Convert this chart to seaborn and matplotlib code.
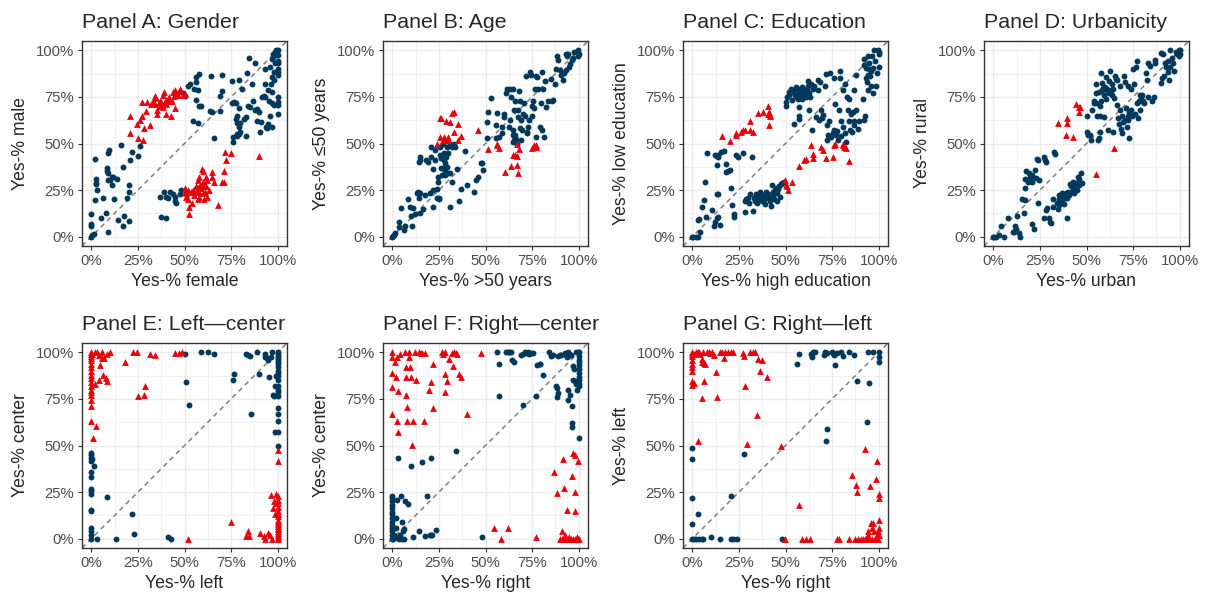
import numpy as np
import pandas as pd
import matplotlib
matplotlib.use("Agg")
import matplotlib.pyplot as plt
from matplotlib.ticker import PercentFormatter, MultipleLocator
import seaborn as sns

# values, in percent: (x, y)
a_blue = [(0,0),(0.5,1),(1.5,1.5),(0,7),(0,6),(0,12),(2,41.5),(2.5,31),(2.5,29),(2.5,28.5),(3,25),(2,19.5),(5,10),(6,21),
          (8,12.5),(9,2.5),(9.5,46.5),(9,45),(8.5,37),(8.5,35),(9,34),(9,30.5),(10,30.5),(11,32),(11.5,32),(11,28),(12,20),
          (14,31),(14.5,9),(16,49),(17,37.5),(17.5,11),(17,6),(19,21),(20,28),(20,24),(20,8.5),(20.5,41),(22,45.5),(25,43.5),
          (26,48.5),(39,24),(40,21.5),(41,20.5),(42,24),(44,23),(45,21.5),(45,19),(45.5,18),(47.5,23),(48,25),(37,21.5),
          (37.5,10.5),(40,10),(49,77),(50,75.5),(52,81),(53,82),(55,79.5),(56,83),(56,85.5),(58,87.5),(57,78.5),(56,73.5),
          (58,70),(59,70),(54.5,62),(57.5,61),(64,86),(63.5,67.5),(65,67),(66,53),(69,75.5),(70,78),(70,87),(69,67.5),
          (75.5,83.5),(75.5,72),(76.5,72.5),(77.5,72),(78,64.5),(77.5,63),(79,69),(79.5,59),(78,61),(80,61),(81,79.5),
          (82,63),(83,64),(78,55),(78,54),(79.5,55),(80,56),(83,54),(76,51),(76,53.5),(79,84),(83.5,88),(84.5,96),(84,70),
          (85,69.5),(86,82),(87,73),(88,68),(88,93),(89,68.5),(90,67),(89,62),(90.5,56),(91,61.5),(91.5,75),(92.5,75.5),
          (93,75),(93,90),(93.5,59),(94.5,58.5),(95,60.5),(95.5,73),(96,64.5),(97,59),(96.5,82),(97,85.5),(96,91),
          (97,95.5),(97.5,98),(98,97),(98.5,99),(99,100),(100,100),(100,97.5),(100,94.5),(100,93),(100,90),(100,88.5),
          (100,86.5),(100,75),(100,72.5),(100,70.5),(100,66),(97,71.5),(98,70.5),(97,77.5),(98,84),(98,88.5),(98.5,93),
          (95,78.5),(93,82)]
a_red = [(21,55.5),(21,64.5),(24.5,60.5),(25,53),(26,62.5),(27,64.5),(27.5,52),(28,58.5),(27,72.5),(29.5,67.5),(30,72.5),
         (31.5,60),(32,71),(34,75.5),(34.5,74.5),(35,68),(35,66),(36.5,71.5),(37,73),(37.5,72.5),(38,71),(38.5,76),
         (38.5,69.5),(39,77.5),(39.5,72.5),(40,73.5),(40,71),(40,66),(41,74),(41.5,75),(42,73),(42.5,65),(43.5,73),
         (44,77.5),(44.5,75.5),(45,69),(45,78.5),(45.5,77),(46.5,76),(47.5,79),(48,78),(49,76),(50,76.5),(33,73),(34,71),
         (37,70),(50,26),(50.5,24),(51,21.5),(51,23.5),(52,20),(52,25),(52.5,16),(52.5,12),(53.5,24),(54,18),(54.5,25),
         (55,22.5),(56,24),(57,26),(57,30.5),(58,32),(58.5,28),(59,26),(59.5,36.5),(60,35),(60,29.5),(60,27),(60,23.5),
         (60.5,20),(61.5,32),(61.5,27),(62,21.5),(62,30.5),(63,25),(65,34.5),(65,32),(66,29.5),(68,17),(70,29.5),
         (71,35.5),(71,29.5),(72,45.5),(72.5,41),(75,45),(90,43.5),(57,20),(58,21.5),(56,27),(58,24),(61,24)]

b_blue = [(0,0),(0.5,0.5),(1,1),(1.5,2),(3.5,5),(3.5,8),(4.5,15.5),(6,3.5),(7,5.5),(8.5,20),(9.5,16),(10,11),(10.5,5.5),
          (11,15.5),(12,12),(13.5,23.5),(14,24),(14.5,21),(15,12.5),(15,23.5),(15,41),(15,43),(14.5,40),(16.5,15),
          (17.5,22.5),(18,41),(19,40),(20,23.5),(20.5,42.5),(21,48),(22,25),(22,16),(22,36.5),(23,41),(23,46.5),(24,25.5),
          (24,21),(24.5,32),(24.5,29.5),(25,20),(25,21),(25.5,48),(25.5,44),(26,42),(26,37),(26.5,33),(26.5,43),(27,49.5),
          (27.5,45),(27.5,41),(28,37.5),(28,35),(28.5,39.5),(28.5,33),(29,43),(29.5,37.5),(29.5,48),(30,34),(30,45),
          (31,50),(31,34),(31,16),(32,29.5),(32,48),(33,49.5),(33.5,48),(34.5,36.5),(36,19),(37,25.5),(39,46),(40,28),
          (44,24),(45,30.5),(46,32),(47.5,39.5),(48,39.5),(48.5,36),(51,53),(51,61.5),(51.5,67),(53,74.5),(55.5,53),
          (55.5,60),(56,66.5),(57,53.5),(59,59),(59,55.5),(60,66),(60,64),(61,77),(61.5,79.5),(62.5,59),(63,62.5),
          (63,79.5),(63.5,75),(64.5,79.5),(65,54.5),(65,51),(65,57),(65.5,52),(65.5,68),(66,54.5),(66,73),(66.5,52.5),
          (67,50),(67.5,64),(67.5,68),(68,78),(68.5,73),(68.5,58.5),(69,62.5),(69,52),(69.5,57),(70,66),(70.5,71.5),
          (71,64.5),(71.5,86),(72,55.5),(72.5,56),(73,59),(73.5,62.5),(74,88.5),(74.5,87),(75,64.5),(75,70),(75.5,73),
          (76,69),(76.5,79.5),(77,86),(77,53.5),(77.5,85.5),(78,79.5),(79,59),(80,71.5),(80.5,57.5),(80.5,88.5),
          (81,79.5),(81.5,53.5),(82,83.5),(82.5,69.5),(83.5,73),(85,84.5),(85.5,73),(86,73.5),(87.5,82),(88,90),
          (88.5,97),(89,95),(90,89.5),(90.5,86.5),(91.5,84),(92,88),(93,89.5),(93,98),(93.5,97),(94,98),(95,91),
          (95.5,92.5),(96.5,95),(97,96),(97.5,99),(99.5,100),(100,98),(99.5,97)]
b_red = [(24,50),(25.5,63.5),(26,63.5),(25.5,53.5),(27,52),(27.5,53.5),(28.5,52),(29,62),(30,53.5),(30,52),(31,61.5),
         (32,66.5),(33,67),(33,56),(35,60.5),(35,52),(37,54),(46,57.5),(51.5,47),(56,50),(56,49),(57.5,47.5),(60.5,34.5),
         (63.5,38),(65,44),(66,44),(67,38.5),(67,43.5),(67.5,34),(68,47),(67,50),(75,47.5),(76,49),(77,49),(77,48)]

c_blue = [(0,0),(0.5,0),(2,0),(3,0),(4,2.5),(3,9),(3.5,9.5),(5,16),(6,19.5),(7,29.5),(7.5,10.5),(8,45),(10.5,14.5),(11.5,6),
          (12,8),(12,44),(13,10),(13,23),(13.5,38.5),(13.5,43.5),(14,42.5),(14,44),(14,23),(14,10.5),(15,6.5),(15.5,45.5),
          (17,46),(18,39),(18,34.5),(19,35),(20,36),(21,26),(21.5,17),(22.5,12),(22.5,10.5),(23.5,44),(24.5,43),(27,45),
          (28,19),(28,13),(29,20),(30,20.5),(30.5,18),(31,23),(32,43),(32.5,14),(33,20.5),(33.5,19),(34,23),(34,21.5),
          (34.5,18),(35,20),(35.5,22),(36,20),(36.5,24),(37,21.5),(37.5,19),(38,22.5),(38.5,20),(38.5,21.5),(39,17.5),
          (39.5,24),(39.5,20.5),(40.5,23),(41.5,19),(41.5,21.5),(42,16.5),(43,28),(43.5,24),(43.5,22),(44,20),(44.5,25),
          (45,26),(45.5,23.5),(45.5,19),(46,25.5),(46.5,27),(47,21.5),(47.5,28.5),(48,29),(49,29.5),(50,70),(50.5,72.5),
          (51,75),(52,77.5),(52,76),(53,79),(53.5,73.5),(54,77.5),(54.5,60.5),(55,76),(55.5,79),(55.5,80.5),(56,75),
          (56.5,74),(57,65),(57,69.5),(57.5,63),(57.5,77.5),(58,79),(58.5,75),(59,80.5),(59,74),(59.5,77),(60,78.5),
          (60.5,76),(61,75),(61.5,79),(62,83.5),(62,81),(62.5,68),(62.5,77),(63,75),(63.5,82),(64,57),(64.5,79),
          (65.5,81),(66.5,64),(67.5,84),(67.5,78.5),(68,62.5),(68.5,83),(69,68),(69.5,63.5),(70,65.5),(71,81),(71.5,87.5),
          (72,60),(72.5,52),(73,54.5),(73.5,62),(74,88),(74.5,53.5),(75.5,55.5),(76,57.5),(76,85),(76.5,71),(77,54.5),
          (77.5,56.5),(78,52),(78.5,68),(79,85),(79,89),(80,54),(80,62),(81,78.5),(81,59),(82,55.5),(82,82),(82.5,51),
          (83,75),(83.5,68),(84,74),(84,62),(84.5,57),(85,66),(85.5,56),(86,67),(86.5,62),(87,78.5),(87,60),(88,86.5),
          (88,68),(89,58),(89.5,62),(91.5,74),(92,95.5),(92,62.5),(92.5,65),(92,92),(93,90.5),(93,85),(93.5,83),
          (94,86.5),(94.5,78.5),(95,93),(95.5,86),(96,81),(96.5,97),(97,90.5),(97,77),(97.5,100),(98,94.5),(98.5,81),
          (99,88),(99.5,100),(100,99),(100,91),(100,98),(96,89),(95,90),(94,97)]
c_red = [(16,54),(20,51.5),(23.5,54.5),(23.5,55.5),(26,56),(27,57),(28,57),(31,62),(31,57),(32.5,56),(35.5,66.5),(38,67),
         (40.5,70),(40.5,66),(41,67),(41,60),(41.5,64.5),(41.5,65.5),(49.5,30.5),(50,28),(51,27),(51.5,25),(53.5,29.5),
         (57.5,38),(60,41),(61,41.5),(63.5,49),(64.5,44.5),(64.5,42),(69,48),(70,46.5),(71.5,42),(75.5,42.5),(76,49),
         (76.5,49.5),(81,49),(81.5,48),(82.5,47.5),(84,40.5),(81,50)]

d_blue = [(0,0),(0.5,0),(1.5,0),(3,1),(4,6),(5.5,0),(8,10),(10.5,2.5),(11,2.5),(11.5,6),(12.5,11),(12,4),(14,2),(14.5,0),
          (15.5,20),(17,19.5),(16.5,12.5),(17,26),(17,31),(17.5,35),(18.5,29.5),(19,34),(19.5,32),(20,33),(20.5,7),
          (20.5,32),(21,33),(21,29.5),(22,4),(22.5,36),(23,31.5),(23.5,41.5),(24,18),(24,41),(24.5,30.5),(27,10),(27,43),
          (27.5,41),(28,40),(28.5,14.5),(29,15.5),(30,10),(30.5,8),(31,7.5),(32,20),(32,16),(32.5,45.5),(33,44.5),(34,18),
          (34.5,15),(35,20),(35,17),(35.5,22.5),(36,19),(36.5,21),(37,23.5),(37.5,20),(38,17.5),(38.5,21.5),(39,23.5),
          (39.5,10),(39.5,20.5),(40,24),(40.5,22.5),(41,28.5),(41.5,27),(42,24),(42.5,26),(43,29.5),(43,27),(43.5,23.5),
          (44,25.5),(44.5,29),(45,25),(45.5,32),(46,31),(47,34),(47.5,29),(46,28),(50,65),(50.5,56),(51,54.5),(52,54.5),
          (52.5,52),(53,68),(54,73),(54,71.5),(55,82),(55,77),(55,72),(55.5,65),(56,52),(56.5,53),(57,56),(57.5,70),
          (58,88),(58,73),(58.5,78.5),(58.5,82.5),(59,80),(59.5,76),(59.5,64),(60,80.5),(60.5,85.5),(60.5,74),(61,79),
          (61.5,57.5),(62,83.5),(62,77),(62.5,89),(63,78.5),(63.5,76),(63.5,82),(64,79),(64,56),(65,74.5),(65.5,86),
          (66,84.5),(66.5,70.5),(66.5,84),(67,63.5),(67.5,60.5),(68,68),(68,81),(68.5,58),(69,65),(69,55.5),(69.5,61.5),
          (70,86),(70.5,83),(70.5,62.5),(71,69),(71.5,59),(72,62.5),(72,65),(72.5,81),(73,53),(73,67),(74,79),(74,68),
          (74.5,64.5),(75,90),(75.5,82),(76,66),(76.5,91),(77,72),(77,94.5),(77.5,63.5),(78,73),(78.5,76),(78.5,68),
          (79,75),(79.5,73),(80,76),(80.5,73),(81,71.5),(82,88),(82.5,84),(83,93),(83,75),(84,91.5),(85,73),(86,75),
          (87,95),(87,93),(90,98.5),(90.5,85),(90,82.5),(91,98),(91.5,86),(92,93),(92.5,91),(93.5,88.5),(93.5,94.5),
          (94,84),(95,100),(95,91),(96,96),(96.5,93),(97,89),(98,99),(98.5,98),(99.5,100),(100,100),(100,98),(99.5,97),
          (57,65),(56.5,77.5),(59.5,80),(61,78.5)]
d_red = [(34.5,61),(39.5,63.5),(39.5,61),(39,54.5),(42.5,53.5),(44.5,71),(46,69.5),(46.5,69.5),(46,67),(55,33.5),(65,47.5)]

e_blue = [(0,0),(0,2),(0,4),(0,6),(0,15),(0,15.5),(0,24),(0,25.5),(0,26.5),(0,33),(0,36),(0,41.5),(0,43.5),(0,45),(0,46),
          (0.5,42.5),(1.5,39),(3,0),(8.5,22.5),(13.5,0),(22,13),(23,2.5),(41,1),(42.5,0),(50,99),(51,84),(52.5,72),
          (59,100),(62.5,100),(66,99),(76,85),(76.5,88.5),(83,99),(84,98.5),(85,98),(85.5,67),(89,100),(90,88.5),(93,99),
          (93,97.5),(94,97),(95,96),(95.5,87),(96.5,97.5),(97,100),(97.5,77),(98,76.5),(98.5,82),(99,87.5),(100,100),
          (100,99),(100,98),(100,97),(100,96),(100,95),(100,94),(100,92),(100,90),(100,89),(100,87.5),(100,85),(100,82),
          (100,80),(100,78.5),(100,76.5),(100,70),(100,67),(100,63),(100,57.5),(98.5,57.5),(100,50)]
e_red = [(0,100),(0,99),(0,98),(0,97),(0,96),(0,94),(0,92),(0,90),(0,88),(0,86),(0,84),(0,82),(0,80),(0,78.5),(0,77),
         (0,74.5),(0,71),(0,63),(2.5,60.5),(1,54),(2,83),(0.5,99),(2,100),(3,100),(4,98.5),(5.5,100),(5.5,97),(7,97),
         (4.5,93),(6.5,88),(4,85),(8,86),(8.5,84.5),(10,100),(8.5,99),(18,95),(22.5,100),(24.5,100),(25,76.5),(28,77),
         (29,82),(31.5,99),(34,98.5),(45,99.5),(47,99.5),(48.5,100),(52,0),(75,9),(83,1.5),(84,4),(84.5,1.5),(90.5,3),
         (92.5,1.5),(93,0),(95,3),(96,2),(96.5,23.5),(97,0),(97.5,16.5),(98,20),(98.5,13),(99,24),(99,19),(100,0),(100,1),
         (100,2),(100,3),(100,4),(100,5),(100,6),(100,7),(100,8),(100,9),(100,10),(100,12),(100,13),(100,15),(100,17),
         (100,19),(100,21),(100,23),(100,47.5),(100,41.5)]

f_blue = [(0,0),(0,2),(0,4),(0,6),(0,7.5),(0,9),(0,11),(0,13),(0,14.5),(0,16.5),(0,18),(0,20),(0,22),(0,23),(0.5,0),(1,2),
          (1.5,1),(2,6),(2,11),(2.5,20.5),(3,0.5),(3.5,0),(4,2),(4.5,23),(5,9),(5,0),(5.5,4),(6,0),(6.5,5),(7,20),
          (8.5,18.5),(3,43.5),(11,1),(10,39),(14.5,4),(16,41),(17.5,1.5),(18.5,23),(20,2),(21,2),(20.5,43.5),(21.5,2),
          (23.5,4.5),(34,47),(48,1),(57,76.5),(57.5,94),(56,100),(61,100),(62,100),(62.5,100),(63.5,100),(64,96),
          (65.5,95),(69,98.5),(70,99),(71,100),(72,99.5),(73,100),(73.5,99),(74.5,99.5),(75.5,99.5),(70,72),(77,76.5),
          (77.5,93),(79,94),(79.5,93.5),(81,88),(84,100),(85,98),(86,98.5),(88,82),(88.5,81),(88.5,76),(89,78),(89,98),
          (90,98.5),(90.5,98.5),(92.5,99.5),(93,98.5),(93.5,97.5),(94,80),(94,74.5),(94.5,100),(95,99),(95.5,98.5),
          (95.5,77),(96,98.5),(96.5,71),(96.5,62),(96.5,60),(97,85),(97,92.5),(97.5,91),(98,84.5),(98.5,100),(98.5,83),
          (99,80),(99.5,100),(100,100),(100,98),(100,96),(100,95),(100,93),(100,91),(100,89),(100,87),(100,85),(100,83),
          (100,82),(100,54)]
f_red = [(0,100),(0,97.5),(0,89),(0,81.5),(0,67),(1.5,95),(2,87),(2.5,97.5),(3,79),(2.5,63),(3,57.5),(4,99),(7,100),(7.5,92),
         (7.5,86.5),(7.5,77),(8,70.5),(8,63),(9,100),(9,97.5),(9.5,92),(10,87),(10.5,50.5),(11,63),(12,100),(12.5,85),
         (14.5,100),(15.5,99.5),(16,99.5),(17.5,99.5),(17,63),(19.5,80),(21,84),(22,94),(22,70),(26.5,100),(27,99),
         (28,100),(28,78.5),(28.5,88.5),(29.5,84.5),(30.5,96.5),(32,99.5),(32.5,92.5),(33,100),(34,99.5),(34.5,99),
         (36,88.5),(37,87),(40,67),(47.5,99.5),(54.5,5.5),(58.5,0),(62,5.5),(77,1),(87,36),(88.5,24.5),(91.5,43),(91,4),
         (92.5,2),(92,27),(93.5,15.5),(96.5,33.5),(97,46),(98,45),(98,25),(98,15),(99.5,41.5),(90,0),(91,0),(92,0),(93,0),
         (94,0),(95,0),(96,0),(97,0),(98,0),(99,0),(100,0),(95,1),(99,1)]

g_blue = [(0,48.5),(0,42.5),(0,22),(0,8),(0,0),(1,0),(2,0),(3,13.5),(3.5,0),(5,0),(5.5,0),(10,1),(15,0),(20.5,23),(21,0),
          (22,0),(24,0),(27.5,45.5),(48,0),(56,94),(57,99),(63.5,99),(64,97.5),(64.5,100),(66,100),(70.5,98.5),(71,100),
          (71.5,52.5),(72.5,59),(72,99.5),(75,100),(75.5,99.5),(76,98.5),(76.5,93),(77.5,99.5),(80,100),(81,98),(84,100),
          (87,98.5),(88.5,84.5),(93.5,62.5),(94,100),(95,83.5),(97,100),(100,100),(100,97.5),(100,95)]
g_red = [(0,100),(0,99),(0,98),(0,96),(0,94),(0,92),(0,90),(0,84.5),(0,82.5),(1,83.5),(1,99),(2,100),(2.5,99.5),(3,100),
         (3.5,100),(4,99),(5,96.5),(5,95),(5.5,100),(6,94.5),(7,93.5),(6.5,84.5),(5,75.5),(3,52.5),(8,100),(9,100),
         (9.5,99.5),(10.5,100),(11.5,98.5),(12.5,89.5),(13,76),(15,100),(16,100),(17,97),(17.5,100),(19,100),(20.5,100),
         (22,100),(27,99.5),(27.5,98),(28.5,82),(29.5,51),(31,100),(32.5,100),(33.5,100),(34.5,66.5),(35,96.5),(36.5,90),
         (37.5,96),(40,86.5),(47.5,50),(49.5,0),(57.5,18),(59,0),(61,0),(63,0),(77.5,0),(78.5,0),(84,0),(85.5,34),
         (87.5,0),(88,29),(88.5,25),(89,0),(90.5,0),(91.5,0),(92.5,0),(92.5,48),(93.5,1),(94,2),(94,4),(95,0),(95.5,28.5),
         (96,8.5),(96.5,6),(97,8.5),(97.5,4),(98.5,32),(99,41.5),(99,2),(99.5,4),(99.5,0),(100,24),(100,22),(100,10),
         (100,6),(100,2),(98,0),(96.5,0),(94.5,0)]

titles = ["Panel A: Gender", "Panel B: Age", "Panel C: Education", "Panel D: Urbanicity",
          "Panel E: Left\u2014center", "Panel F: Right\u2014center", "Panel G: Right\u2014left"]
x_labels = ["Yes-% female", "Yes-% >50 years", "Yes-% high education", "Yes-% urban",
            "Yes-% left", "Yes-% right", "Yes-% right"]
y_labels = ["Yes-% male", "Yes-% \u226450 years", "Yes-% low education", "Yes-% rural",
            "Yes-% center", "Yes-% center", "Yes-% left"]
panels = [(a_blue, a_red), (b_blue, b_red), (c_blue, c_red), (d_blue, d_red),
          (e_blue, e_red), (f_blue, f_red), (g_blue, g_red)]

sns.set_style("white")
plt.rcParams['font.family'] = ['Liberation Sans', 'DejaVu Sans']

BLUE = "#00395B"
RED = "#E8000B"

fig = plt.figure(figsize=(12.09, 5.96), dpi=100)
lefts = [82, 383, 683, 984]
tops = [41, 343]
W, H = 1209, 596

for i, (title, (blue, red)) in enumerate(zip(titles, panels)):
    row, col = divmod(i, 4)
    ax = fig.add_axes([lefts[col] / W, 1 - (tops[row] + 205) / H, 205 / W, 205 / H])

    df = pd.DataFrame(blue + red, columns=["x", "y"]) / 100
    df["group"] = ["blue"] * len(blue) + ["red"] * len(red)

    ax.axline((0, 0), (1, 1), color="#7F7F7F", lw=1.1, ls=(0, (3.2, 2.6)), zorder=1)
    sns.scatterplot(data=df[df.group == "blue"], x="x", y="y", color=BLUE, marker="o", s=18,
                    linewidth=0, ax=ax, zorder=3, legend=False)
    sns.scatterplot(data=df[df.group == "red"], x="x", y="y", color=RED, marker="^", s=24,
                    linewidth=0, ax=ax, zorder=4, legend=False)

    ax.set_xlim(-0.05, 1.05)
    ax.set_ylim(-0.05, 1.05)
    for axis in (ax.xaxis, ax.yaxis):
        axis.set_major_locator(MultipleLocator(0.25))
        axis.set_minor_locator(MultipleLocator(0.125))
        axis.set_major_formatter(PercentFormatter(xmax=1, decimals=0))
    ax.grid(which="major", color="#EBEBEB", lw=1.0, zorder=0)
    ax.grid(which="minor", color="#EBEBEB", lw=0.5, zorder=0)
    ax.set_axisbelow(True)
    ax.tick_params(which="major", length=3, width=0.8, color="#333333", labelsize=10.7,
                   labelcolor="#4D4D4D", pad=2.5, direction="out", bottom=True, left=True)
    ax.tick_params(which="minor", length=0)
    for sp in ax.spines.values():
        sp.set_color("#333333")
        sp.set_linewidth(1.0)
    ax.set_xlabel(x_labels[i], fontsize=12.7, labelpad=3.5)
    ax.set_ylabel(y_labels[i], fontsize=12.7, labelpad=5)
    ax.set_title(title, fontsize=15.4, loc="left", pad=9.5)

fig.savefig("out.png", dpi=100)
